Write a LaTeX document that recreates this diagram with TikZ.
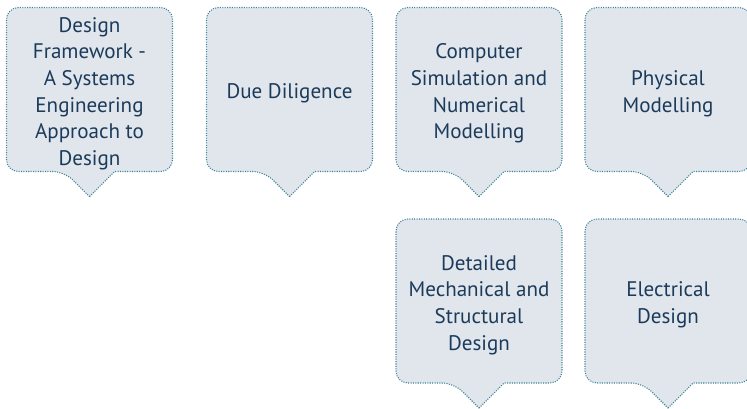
\documentclass[tikz,border=0pt]{standalone}
\usepackage{fontspec}
\setmainfont{PT Sans}
\usepackage{xcolor}
\definecolor{bubbleFill}{HTML}{E1E6ED}
\definecolor{bubbleEdge}{HTML}{3B8096}
\definecolor{bubbleText}{HTML}{1C3B5A}

% callout outline: centre x, centre y
\newcommand{\bubbleshape}[2]{%
	\draw[bubble] ({#1},{#2+107}) -- ({#1+25},{#2+82}) [rounded corners=9] -- ({#1+83},{#2+82}) -- ({#1+83},{#2-82}) -- ({#1-83},{#2-82}) -- ({#1-83},{#2+82}) -- ({#1-25},{#2+82}) [sharp corners] -- cycle;}

\begin{document}
\begin{tikzpicture}[x=0.75pt, y=-0.75pt,
	bubble/.style={fill=bubbleFill, draw=bubbleEdge, densely dotted, line width=0.8pt},
	bubbletext/.style={text=bubbleText, align=center, font=\fontsize{15.8}{20}\selectfont}]
	\useasboundingbox (0,0) rectangle (747,408);
	\bubbleshape{89.5}{89.5}
	\bubbleshape{289.5}{89.5}
	\bubbleshape{479}{89.5}
	\bubbleshape{668}{89.5}
	\bubbleshape{479}{301}
	\bubbleshape{668}{301}
	\node[bubbletext] (design) at (89.5,93.5) {Design\\Framework -\\A Systems\\Engineering\\Approach to\\Design};
	\node[bubbletext] (diligence) at (289.5,93.5) {Due Diligence};
	\node[bubbletext] (simulation) at (479,93.5) {Computer\\Simulation and\\Numerical\\Modelling};
	\node[bubbletext] (physical) at (668,93.5) {Physical\\Modelling};
	\node[bubbletext] (mechanical) at (479,305) {Detailed\\Mechanical and\\Structural\\Design};
	\node[bubbletext] (electrical) at (668,305) {Electrical\\Design};
\end{tikzpicture}
\end{document}
